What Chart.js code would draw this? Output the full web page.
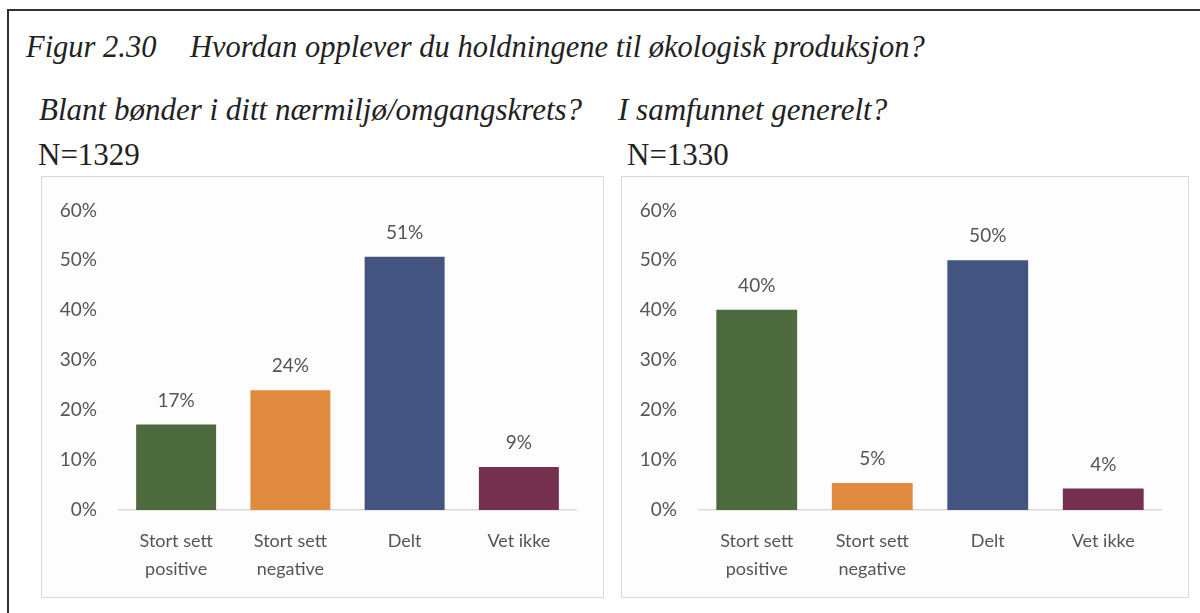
<!DOCTYPE html>
<html lang="no">
<head>
<meta charset="utf-8">
<title>Figur 2.30</title>
<script src="https://cdn.jsdelivr.net/npm/chart.js@4.4.0/dist/chart.umd.min.js"></script>
<style>
  html, body { margin: 0; padding: 0; background: #fff; }
  body { width: 1200px; height: 613px; position: relative; overflow: hidden; font-family: 'Liberation Serif', 'Times New Roman', serif; color: #222; }
  .ramme { position: absolute; left: 7px; top: 9px; width: 1300px; height: 700px; border: 2px solid #333; }
  .tekst { position: absolute; line-height: 1; white-space: nowrap; }
  .figtittel { font-style: italic; font-size: 30.5px; top: 32px; }
  .undertittel { font-style: italic; font-size: 31px; top: 94px; }
  .antall { font-size: 31px; top: 139px; }
  .panel { position: absolute; top: 176px; height: 420px; border: 1px solid #d9d9d9; background: #fdfdfd; }
  .panel canvas { display: block; }
</style>
</head>
<body>
<div class="ramme"></div>

<div class="tekst figtittel" style="left:26px">Figur 2.30</div>
<div class="tekst figtittel" style="left:190px">Hvordan opplever du holdningene til økologisk produksjon?</div>

<div class="tekst undertittel" style="left:39px">Blant bønder i ditt nærmiljø/omgangskrets?</div>
<div class="tekst undertittel" style="left:618px">I samfunnet generelt?</div>

<div class="tekst antall" style="left:38px">N=1329</div>
<div class="tekst antall" style="left:627px">N=1330</div>

<div class="panel" style="left:41px; width:561px"><canvas id="chartNaermiljo" width="561" height="420"></canvas></div>
<div class="panel" style="left:621px; width:566px"><canvas id="chartSamfunnet" width="566" height="420"></canvas></div>

<script>
// --- data lest av figuren (prosent) ---
const kategorier = [['Stort sett', 'positive'], ['Stort sett', 'negative'], 'Delt', 'Vet ikke'];
const verdierNaermiljo = [17.1, 24.0, 50.7, 8.6];   // N=1329
const verdierSamfunnet = [40.1, 5.4, 50.0, 4.3];    // N=1330
const yMaks = 60;
const ySteg = 10;

// farger som i Excel-figuren
const fargeGronn = '#4e6a3f';
const fargeOransje = '#e08b3f';
const fargeBla = '#42547f';
const fargeLilla = '#76304f';
const fargeTekst = '#555555';

Chart.defaults.font.family = 'Lato, "Open Sans", sans-serif';

// prosent-etiketter over soylene (ingen datalabels-plugin tilgjengelig)
const verdiEtiketter = {
    id: 'verdiEtiketter',
    afterDatasetsDraw(chart) {
        const ctx = chart.ctx;
        const meta = chart.getDatasetMeta(0);
        const data = chart.data.datasets[0].data;
        ctx.save();
        ctx.font = '19px Lato, sans-serif';
        ctx.fillStyle = fargeTekst;
        ctx.textAlign = 'center';
        ctx.textBaseline = 'middle';
        meta.data.forEach((bar, i) => {
            ctx.fillText(Math.round(data[i]) + '%', bar.x, bar.y - 24);
        });
        ctx.restore();
    }
};

function lagSoylediagram(id, verdier) {
    return new Chart(document.getElementById(id), {
        type: 'bar',
        data: {
            labels: kategorier,
            datasets: [{
                data: verdier,
                backgroundColor: [fargeGronn, fargeOransje, fargeBla, fargeLilla],
                barPercentage: 0.7,
                categoryPercentage: 1.0
            }]
        },
        options: {
            responsive: false,
            animation: false,
            layout: { padding: { top: 28, right: 27, left: 0, bottom: 0 } },
            plugins: {
                legend: { display: false },
                tooltip: { enabled: false }
            },
            scales: {
                x: {
                    grid: { display: false, drawTicks: false },
                    border: { display: true, color: '#d9d9d9', width: 1.5 },
                    ticks: {
                        color: fargeTekst,
                        font: { size: 18, lineHeight: 1.55 },
                        padding: 17,
                        maxRotation: 0,
                        autoSkip: false
                    },
                    afterFit(skala) { skala.height = 87; }
                },
                y: {
                    min: 0,
                    max: yMaks,
                    grid: { display: false, drawTicks: false },
                    border: { display: false },
                    ticks: {
                        stepSize: ySteg,
                        color: fargeTekst,
                        font: { size: 19 },
                        padding: 22,
                        callback: v => v + '%'
                    },
                    afterFit(skala) { skala.width = 77; }
                }
            }
        },
        plugins: [verdiEtiketter]
    });
}

lagSoylediagram('chartNaermiljo', verdierNaermiljo);
lagSoylediagram('chartSamfunnet', verdierSamfunnet);
</script>
</body>
</html>
